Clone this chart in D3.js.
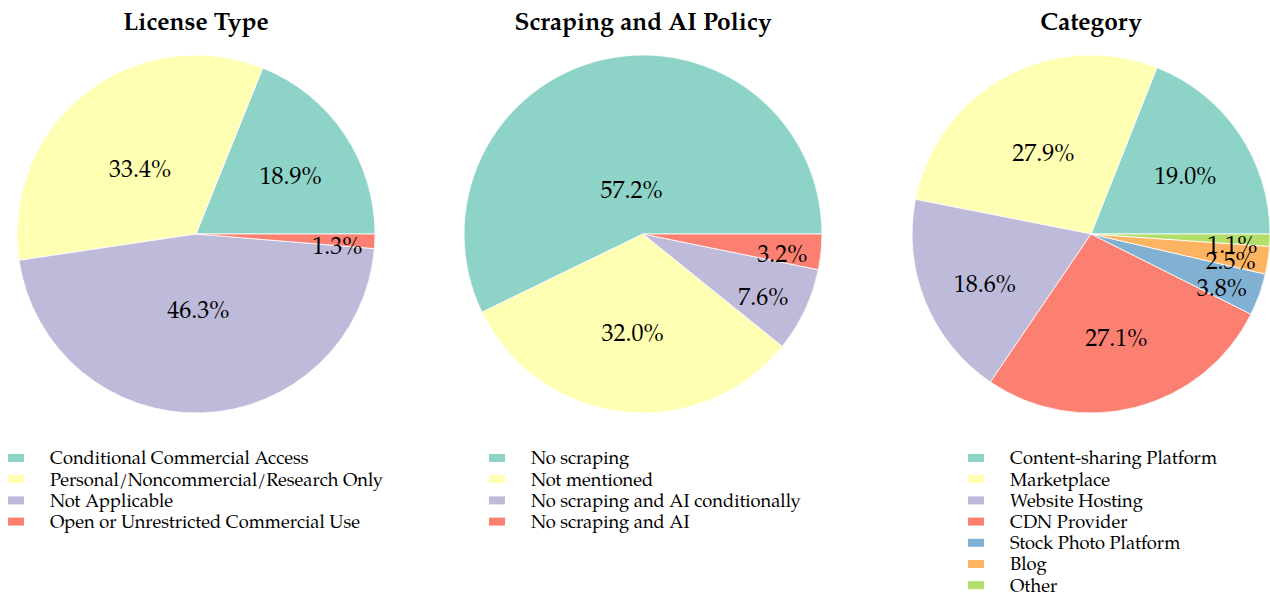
<!DOCTYPE html>
<meta charset="utf-8">
<script src="https://d3js.org/d3.v7.min.js"></script>
<style>
  body { margin: 0; background: #fff; }
  text { font-family: "TeX Gyre Pagella", "Palatino Linotype", Palatino, "Liberation Serif", serif; }
</style>
<div id="my_dataviz"></div>
<script>
  var width = 1270
  var height = 594

  // data
  var licenseLabels = ["Conditional Commercial Access", "Personal/Noncommercial/Research Only", "Not Applicable", "Open or Unrestricted Commercial Use"]
  var licenseValues = [18.9, 33.4, 46.3, 1.3]

  var policyLabels = ["No scraping", "Not mentioned", "No scraping and AI conditionally", "No scraping and AI"]
  var policyValues = [57.2, 32.0, 7.6, 3.2]

  var categoryLabels = ["Content-sharing Platform", "Marketplace", "Website Hosting", "CDN Provider", "Stock Photo Platform", "Blog", "Other"]
  var categoryValues = [19.0, 27.9, 18.6, 27.1, 3.8, 2.5, 1.1]

  var titles = ["License Type", "Scraping and AI Policy", "Category"]

  var colors = ["#8dd3c7", "#ffffb3", "#bebada", "#fb8072", "#80b1d3", "#fdb462", "#b3de69"]

  var svg = d3.select("#my_dataviz")
    .append("svg")
      .attr("width", width)
      .attr("height", height)

  var charts = [
    { title: titles[0], labels: licenseLabels, values: licenseValues, cx: 196, legendX: 8 },
    { title: titles[1], labels: policyLabels, values: policyValues, cx: 643, legendX: 489 },
    { title: titles[2], labels: categoryLabels, values: categoryValues, cx: 1091, legendX: 968 }
  ]

  var radius = 179
  var cy = 234

  // start at 3 o'clock and go counterclockwise
  var pie = d3.pie()
    .sort(null)
    .value(function(d){ return d.v })
    .startAngle(Math.PI / 2)
    .endAngle(Math.PI / 2 - 2 * Math.PI)

  var arc = d3.arc().innerRadius(0).outerRadius(radius)

  // bigger slices get their label nearer the centre
  function labelPos(d) {
    var span = Math.abs(d.endAngle - d.startAngle) * 180 / Math.PI
    var f = Math.min(0.79, 0.812 - 0.00255 * span)
    var a = (d.startAngle + d.endAngle) / 2
    return [Math.sin(a) * radius * f, -Math.cos(a) * radius * f + 6]
  }

  charts.forEach(function(c) {
    var color = d3.scaleOrdinal().domain(c.labels).range(colors)

    svg.append("text")
      .attr("x", c.cx)
      .attr("y", 30)
      .attr("text-anchor", "middle")
      .style("font-size", "24.5px")
      .style("font-weight", "bold")
      .text(c.title)

    var g = svg.append("g").attr("transform", "translate(" + c.cx + "," + cy + ")")

    var arcs = pie(c.values.map(function(v, i){ return { v: v, label: c.labels[i] } }))

    g.selectAll("path")
      .data(arcs)
      .enter()
      .append("path")
        .attr("d", arc)
        .style("fill", function(d){ return color(d.data.label) })
        .style("stroke", "#fff")
        .style("stroke-width", 0.8)

    g.selectAll("text.pct")
      .data(arcs)
      .enter()
      .append("text")
        .attr("class", "pct")
        .attr("transform", function(d){ return "translate(" + labelPos(d) + ")" })
        .attr("text-anchor", "middle")
        .attr("dy", "0.35em")
        .style("font-size", "24px")
        .text(function(d){ return d.data.v.toFixed(1) + "%" })

    // legend
    var rows = svg.append("g")
      .selectAll("g")
      .data(c.labels)
      .enter()
      .append("g")
        .attr("transform", function(d, i){ return "translate(" + c.legendX + "," + (458 + i * 21.2) + ")" })
    rows.append("rect")
      .attr("x", 0)
      .attr("y", -4)
      .attr("width", 16)
      .attr("height", 8)
      .style("fill", function(d){ return color(d) })
    rows.append("text")
      .attr("x", 42)
      .attr("y", 0)
      .attr("dy", "0.35em")
      .style("font-size", "18.3px")
      .text(function(d){ return d })
  })
</script>
